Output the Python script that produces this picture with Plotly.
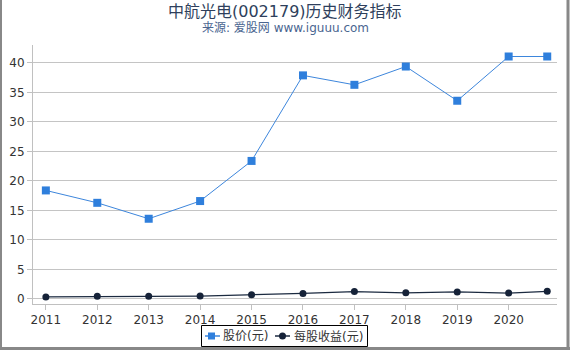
import plotly.graph_objects as go

years = [2011, 2012, 2013, 2014, 2015, 2016, 2017, 2018, 2019, 2020, 2020.75]
price = [18.4, 16.3, 13.6, 16.6, 23.4, 37.9, 36.3, 39.4, 33.6, 41.1, 41.1]
eps = [0.35, 0.45, 0.45, 0.5, 0.7, 0.95, 1.25, 1.05, 1.2, 1.0, 1.3]
tick_vals = [2011, 2012, 2013, 2014, 2015, 2016, 2017, 2018, 2019, 2020]
tick_text = ["2011", "2012", "2013", "2014", "2015", "2016", "2017", "2018", "2019", "2020"]
series_names = ["股价(元)", "每股收益(元)"]
series_colors = ["#2f7fdc", "#152238"]

W, H = 570, 350
ml, mr, mt, mb = 33, 13, 45, 46
pw, ph = W - ml - mr, H - mt - mb

fig = go.Figure()
fig.add_trace(go.Scatter(x=years, y=price, name=series_names[0], mode="lines+markers",
                         line=dict(color="#3d86dc", width=1),
                         marker=dict(symbol="square", size=8, color=series_colors[0])))
fig.add_trace(go.Scatter(x=years, y=eps, name=series_names[1], mode="lines+markers",
                         line=dict(color="#1b2a40", width=1.2),
                         marker=dict(symbol="circle", size=7, color=series_colors[1])))

def px2paper_x(p):
    return (p - ml) / pw

def px2paper_y(p):
    return 1 - (p - mt) / ph

def pline(x0, y0, x1, y1, color, width):
    return dict(type="line", xref="paper", yref="paper",
                x0=px2paper_x(x0), x1=px2paper_x(x1),
                y0=px2paper_y(y0), y1=px2paper_y(y1),
                line=dict(color=color, width=width))

shapes = [
    pline(1, 0, 1, 350, "#888888", 2),
    pline(568, 0, 568, 350, "#888888", 3),
    pline(0, 348.5, 570, 348.5, "#888888", 3),
    # legend box
    dict(type="rect", xref="paper", yref="paper",
         x0=px2paper_x(201.5), x1=px2paper_x(367.5),
         y0=px2paper_y(325.5), y1=px2paper_y(346.5),
         line=dict(color="#000000", width=1), fillcolor="white"),
    # legend item 1
    pline(205, 336, 220, 336, "#3d86dc", 1.5),
    dict(type="rect", xref="paper", yref="paper",
         x0=px2paper_x(208), x1=px2paper_x(215),
         y0=px2paper_y(332.5), y1=px2paper_y(339.5),
         line=dict(width=0), fillcolor=series_colors[0]),
    # legend item 2
    pline(275, 336, 290, 336, "#1b2a40", 1.5),
    dict(type="circle", xref="paper", yref="paper",
         x0=px2paper_x(279), x1=px2paper_x(286),
         y0=px2paper_y(332.5), y1=px2paper_y(339.5),
         line=dict(width=0), fillcolor=series_colors[1]),
]

annotations = [
    dict(text="中航光电(002179)历史财务指标", xref="paper", yref="paper",
         x=px2paper_x(285), y=px2paper_y(11), xanchor="center", yanchor="middle",
         showarrow=False, font=dict(size=16, color="#2e3f5c")),
    dict(text="来源: 爱股网 www.iguuu.com", xref="paper", yref="paper",
         x=px2paper_x(285), y=px2paper_y(28), xanchor="center", yanchor="middle",
         showarrow=False, font=dict(size=12, color="#4a6590")),
    dict(text=series_names[0], xref="paper", yref="paper",
         x=px2paper_x(221), y=px2paper_y(336), xanchor="left", yanchor="middle",
         showarrow=False, font=dict(size=12, color="#333333")),
    dict(text=series_names[1], xref="paper", yref="paper",
         x=px2paper_x(292), y=px2paper_y(336), xanchor="left", yanchor="middle",
         showarrow=False, font=dict(size=12, color="#333333")),
]

fig.update_layout(
    width=W, height=H,
    margin=dict(l=ml, r=mr, t=mt, b=mb),
    paper_bgcolor="white", plot_bgcolor="white",
    font=dict(family="DejaVu Sans, Noto Sans CJK SC", size=12, color="#333333"),
    xaxis=dict(range=[2010.75, 2020.94], tickvals=tick_vals, ticktext=tick_text,
               showgrid=False, showline=True, linecolor="#c0c0c0", ticks="outside",
               tickcolor="#c0c0c0", ticklen=5, zeroline=False, fixedrange=True,
               automargin=False, tickfont=dict(size=12, color="#333333")),
    yaxis=dict(range=[-0.85, 43.05], tickvals=[0, 5, 10, 15, 20, 25, 30, 35, 40],
               showgrid=True, gridcolor="#c4c4c4", showline=True, linecolor="#c0c0c0",
               ticks="outside", tickcolor="#c0c0c0", ticklen=5, zeroline=False,
               automargin=False, tickfont=dict(size=12, color="#333333")),
    shapes=shapes,
    annotations=annotations,
    showlegend=False,
)

fig.write_html("out.html")
